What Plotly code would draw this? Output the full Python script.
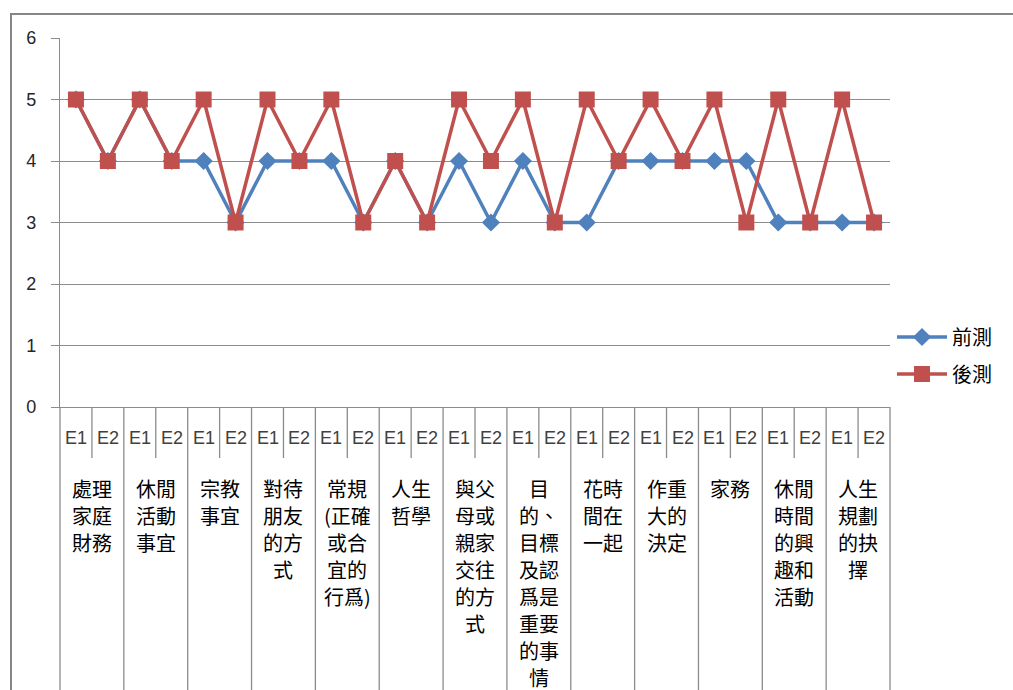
import plotly.graph_objects as go

# Thirteen topics, each rated in two items (E1, E2); one list entry per printed line
groups = [
    ["處理", "家庭", "財務"],
    ["休閒", "活動", "事宜"],
    ["宗教", "事宜"],
    ["對待", "朋友", "的方", "式"],
    ["常規", "(正確", "或合", "宜的", "行爲)"],
    ["人生", "哲學"],
    ["與父", "母或", "親家", "交往", "的方", "式"],
    ["目", "的、", "目標", "及認", "爲是", "重要", "的事", "情"],
    ["花時", "間在", "一起"],
    ["作重", "大的", "決定"],
    ["家務"],
    ["休閒", "時間", "的興", "趣和", "活動"],
    ["人生", "規劃", "的抉", "擇"],
]
items = ["E1", "E2"]

pre_test = [5, 4, 5, 4, 4, 3, 4, 4, 4, 3, 4, 3, 4, 3, 4, 3, 3, 4, 4, 4, 4, 4, 3, 3, 3, 3]
post_test = [5, 4, 5, 4, 5, 3, 5, 4, 5, 3, 4, 3, 5, 4, 5, 3, 5, 4, 5, 4, 5, 3, 5, 3, 5, 3]

n = len(groups) * len(items)
xs = list(range(n))

BLUE = "#4F81BD"
RED = "#C0504D"
GRID = "#8C8C8C"

# pixel geometry of the plot area
W, H = 1013, 690
L, R, T, B = 60, 123, 38, 283
plot_h = H - T - B


def py(p):
    """paper y for a pixel row"""
    return (H - B - p) / plot_h


def px(p):
    """paper x for a pixel column"""
    return (p - L) / (W - L - R)


fig = go.Figure()
fig.add_trace(go.Scatter(
    x=xs, y=pre_test, name="前測", mode="lines+markers",
    line=dict(color=BLUE, width=3.5),
    marker=dict(symbol="diamond", size=14, color=BLUE),
    legend="legend",
))
fig.add_trace(go.Scatter(
    x=xs, y=post_test, name="後測", mode="lines+markers",
    line=dict(color=RED, width=3.5),
    marker=dict(symbol="square", size=16, color=RED),
    legend="legend2",
))

shapes = []
annotations = []

# category axis: item separators and group separators
for i in range(n + 1):
    xp = i / n
    if i % 2 == 0:
        y_end = py(H + 5)
    else:
        y_end = py(458)
    shapes.append(dict(type="line", xref="paper", yref="paper",
                       x0=xp, x1=xp, y0=0, y1=y_end,
                       line=dict(color=GRID, width=1.3)))

for i in range(n):
    annotations.append(dict(
        x=i, y=py(438), xref="x", yref="paper", text=items[i % 2],
        showarrow=False, xanchor="center", yanchor="middle",
        font=dict(size=18, color="#404040", family="Liberation Sans, Noto Sans"),
    ))

LINE_PITCH = 27
for g, lines in enumerate(groups):
    for k, line in enumerate(lines):
        annotations.append(dict(
            x=2 * g + 0.5, y=py(488 + k * LINE_PITCH), xref="x", yref="paper",
            text=line, showarrow=False, xanchor="center", yanchor="middle",
            font=dict(size=20, color="#000000", family="Noto Sans CJK TC"),
        ))

# chart frame
shapes.append(dict(type="rect", xref="paper", yref="paper",
                   x0=px(11), x1=px(W + 20), y0=py(H + 20), y1=py(14),
                   line=dict(color="#868686", width=2), layer="below"))

legend_font = dict(size=20, color="#000000", family="Noto Sans CJK TC")
fig.update_layout(
    width=W, height=H,
    margin=dict(l=L, r=R, t=T, b=B),
    paper_bgcolor="white", plot_bgcolor="white",
    shapes=shapes, annotations=annotations,
    showlegend=True,
    legend=dict(x=px(892), y=py(337), xanchor="left", yanchor="middle",
                font=legend_font, bgcolor="rgba(0,0,0,0)", itemwidth=50),
    legend2=dict(x=px(892), y=py(374), xanchor="left", yanchor="middle",
                 font=legend_font, bgcolor="rgba(0,0,0,0)", itemwidth=50),
    xaxis=dict(range=[-0.5, n - 0.5], showticklabels=False, ticks="",
               showgrid=False, zeroline=False, showline=True,
               linecolor=GRID, linewidth=1.3),
    yaxis=dict(range=[0, 6], tickvals=[0, 1, 2, 3, 4, 5, 6],
               showgrid=True, gridcolor=GRID, gridwidth=1.3,
               zeroline=False, showline=True, linecolor=GRID, linewidth=1.3,
               ticks="outside", ticklen=8, tickcolor=GRID, tickwidth=1.3,
               ticklabelstandoff=11,
               tickfont=dict(size=18, color="#262626", family="Liberation Sans, Noto Sans")),
)

fig.write_html("out.html")
